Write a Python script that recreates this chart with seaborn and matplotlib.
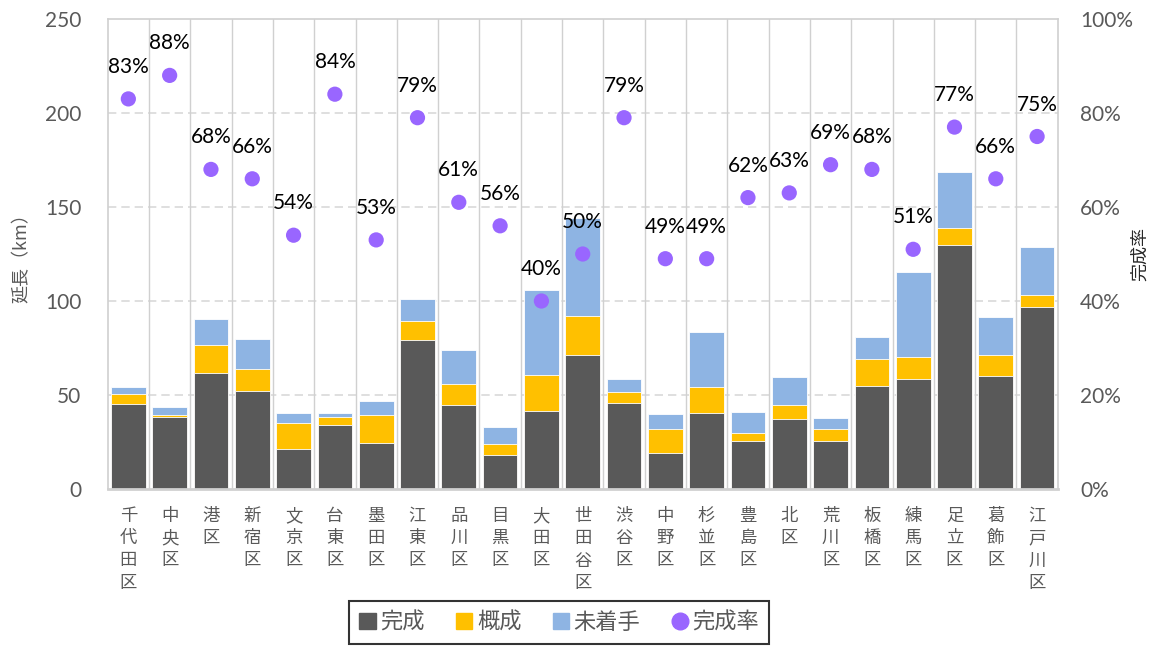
import numpy as np
import pandas as pd
import seaborn as sns
import matplotlib.pyplot as plt
from matplotlib.patches import Patch
from matplotlib.lines import Line2D

# --- data ---
wards = ["千代田区", "中央区", "港区", "新宿区", "文京区", "台東区", "墨田区", "江東区",
         "品川区", "目黒区", "大田区", "世田谷区", "渋谷区", "中野区", "杉並区", "豊島区",
         "北区", "荒川区", "板橋区", "練馬区", "足立区", "葛飾区", "江戸川区"]
kansei = [45.2, 38.1, 61.5, 52.3, 21.5, 33.9, 24.6, 79.4, 44.7, 18.3, 41.7, 71.5,
          45.9, 19.3, 40.6, 25.5, 37.4, 25.7, 55.0, 58.7, 130.0, 60.1, 97.0]
gaisei = [5.5, 1.3, 15.1, 11.7, 13.6, 4.6, 14.8, 10.0, 11.3, 5.5, 18.9, 20.5,
          5.5, 12.6, 13.8, 4.1, 7.5, 6.2, 14.3, 11.5, 9.0, 11.2, 6.4]
michakushu = [3.6, 4.2, 13.6, 15.8, 5.3, 1.9, 7.6, 11.5, 17.9, 9.4, 45.4, 52.0,
              7.3, 8.0, 29.1, 11.4, 14.5, 5.9, 11.4, 45.0, 29.6, 20.4, 25.5]
rate = [83, 88, 68, 66, 54, 84, 53, 79, 61, 56, 40, 50,
        79, 49, 49, 62, 63, 69, 68, 51, 77, 66, 75]

df = pd.DataFrame({"ward": wards, "完成": kansei, "概成": gaisei, "未着手": michakushu,
                   "rate": np.array(rate) / 100})
df["top_gaisei"] = df["完成"] + df["概成"]
df["top_all"] = df["top_gaisei"] + df["未着手"]
df["label"] = ["\n".join(list(w)) for w in df["ward"]]

c_dark = "#595959"
c_yel = "#FFC000"
c_blue = "#8EB4E3"
c_pur = "#9966FF"
c_txt = "#595959"
num_font = ["Lato", "DejaVu Sans"]

sns.set_style("white")
plt.rcParams["font.family"] = ["Noto Sans CJK JP", "DejaVu Sans"]

fig = plt.figure(figsize=(11.53, 6.46), dpi=100)
ax = fig.add_axes([0.0934, 0.243, 0.824, 0.7276])

# stacked bars: draw cumulative totals back to front
for col, color in [("top_all", c_blue), ("top_gaisei", c_yel), ("完成", c_dark)]:
    sns.barplot(data=df, x="label", y=col, color=color, width=0.84, ax=ax,
                saturation=1, edgecolor="white", linewidth=0.6)

ax.set_ylim(0, 250)
ax.set_xlim(-0.5, len(wards) - 0.5)
ax.set_yticks(range(0, 251, 50))
for y in range(50, 201, 50):
    ax.axhline(y, color="#D9D9D9", ls=(0, (5, 3)), lw=1.2, zorder=0)
for i in range(len(wards) - 1):
    ax.axvline(i + 0.5, color="#D0D0D0", lw=1.0, zorder=0)
for s in ax.spines.values():
    s.set_color("#D0D0D0")
    s.set_linewidth(1.2)
ax.spines["bottom"].set_linewidth(2)
ax.set_xlabel("")
ax.set_ylabel("延長（km）", fontsize=13, color=c_txt)
ax.yaxis.set_label_coords(-0.081, 0.5)
ax.tick_params(axis="y", labelsize=15, labelcolor=c_txt, length=0, pad=19)
ax.tick_params(axis="x", labelsize=12.5, labelcolor=c_txt, length=0, pad=13)
for t in ax.get_yticklabels():
    t.set_family(num_font)
for t in ax.get_xticklabels():
    t.set_linespacing(1.3)

# completion rate on secondary axis
ax2 = ax.twinx()
sns.scatterplot(data=df, x="label", y="rate", color=c_pur, s=120, edgecolor="none",
                ax=ax2, zorder=5)
ax2.set_ylim(0, 1)
ax2.set_yticks(np.linspace(0, 1, 6))
ax2.set_yticklabels([f"{int(round(v * 100))}%" for v in np.linspace(0, 1, 6)])
ax2.tick_params(axis="y", labelsize=15, labelcolor=c_txt, length=0, pad=16)
for t in ax2.get_yticklabels():
    t.set_family(num_font)
ax2.set_ylabel("完成率", fontsize=13, color="#262626", rotation=90)
ax2.yaxis.set_label_coords(1.077, 0.5)
for s in ax2.spines.values():
    s.set_visible(False)
for i, r in enumerate(df["rate"]):
    ax2.annotate(f"{rate[i]}%", (i, r), xytext=(0, 23), textcoords="offset points",
                 ha="center", va="center", fontsize=15, color="black", family=num_font)

handles = [Patch(color=c_dark, label="完成"), Patch(color=c_yel, label="概成"),
           Patch(color=c_blue, label="未着手"),
           Line2D([], [], marker="o", ls="", color=c_pur, markersize=12, label="完成率")]
leg = fig.legend(handles=handles, loc="upper center", bbox_to_anchor=(0.485, 0.07),
                 ncol=4, fontsize=16, frameon=True, fancybox=False, edgecolor="black",
                 handlelength=0.75, handleheight=0.75, handletextpad=0.2, columnspacing=1.4,
                 borderpad=0.45, borderaxespad=0)
leg.get_frame().set_linewidth(1.5)
for t in leg.get_texts():
    t.set_color(c_txt)

fig.savefig("out.png", dpi=100)
